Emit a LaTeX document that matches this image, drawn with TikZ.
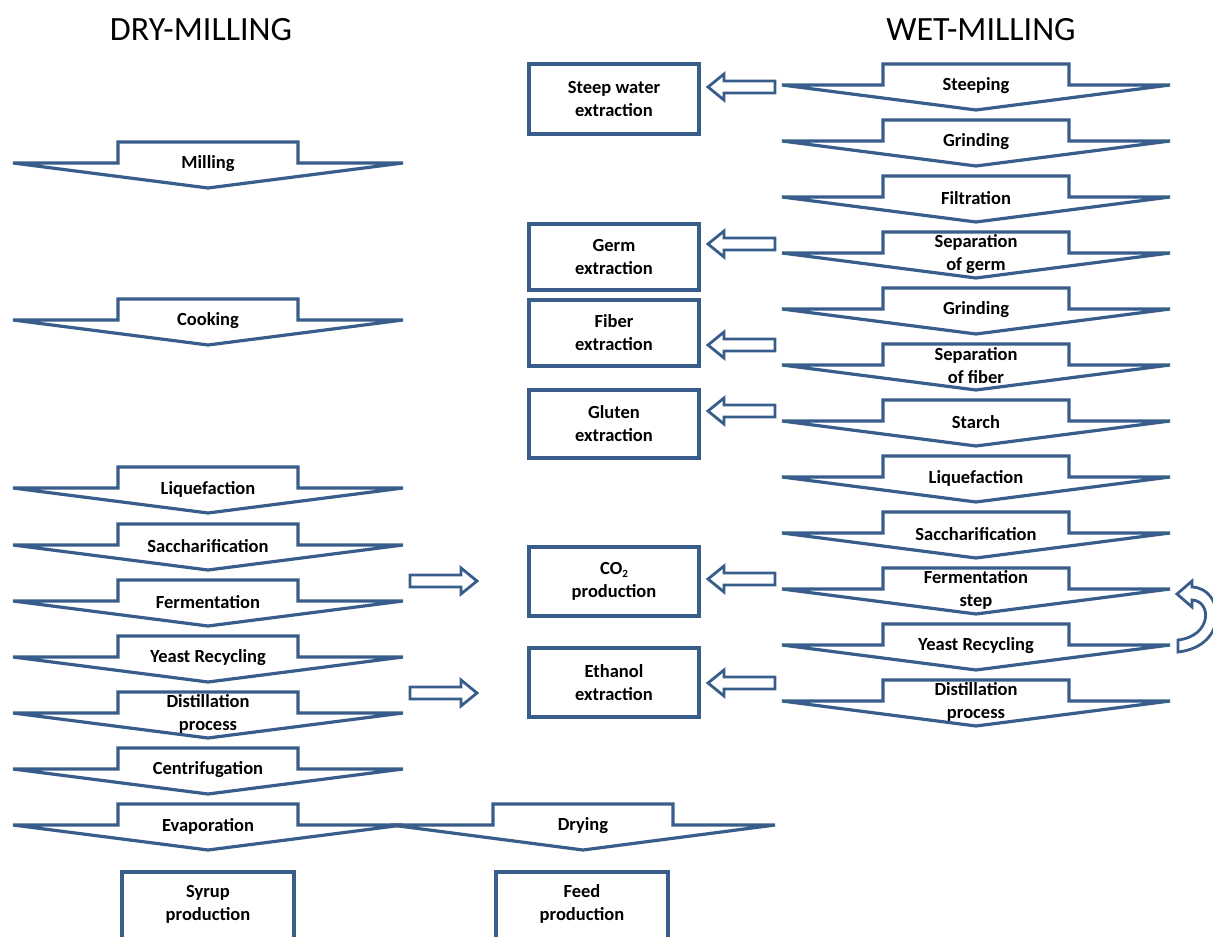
\documentclass[tikz,border=0pt]{standalone}
\usepackage{fontspec}
\setmainfont{Carlito}
\definecolor{edge}{RGB}{56,93,138}
\tikzset{
  shp/.style={draw=edge, line width=3.2pt, fill=white, line join=miter},
  lbl/.style={font=\bfseries\fontsize{18.5}{23}\selectfont, align=center, inner sep=0pt},
  boxn/.style={draw=edge, line width=3.2pt, fill=white, minimum width=170pt, align=center, font=\bfseries\fontsize{18.5}{23}\selectfont, inner sep=0pt},
  ttl/.style={font=\fontsize{34}{40}\selectfont, inner sep=0pt}
}
% name, cx, top, rect half width, head half width, text
\newcommand\dnarrow[6]{%
  \draw[shp] (#2-#4,#3) -- (#2+#4,#3) -- (#2+#4,#3+21) -- (#2+#5,#3+21) -- (#2,#3+46) -- (#2-#5,#3+21) -- (#2-#4,#3+21) -- cycle;
  \node[lbl] (#1) at (#2,#3+22) {#6};}
% left-pointing hollow arrow: tail x, tip x, y
\newcommand\hollowL[3]{%
  \draw[shp, line width=2.8pt] (#1,#3-6) -- (#2+16,#3-6) -- (#2+16,#3-13) -- (#2,#3) -- (#2+16,#3+13) -- (#2+16,#3+6) -- (#1,#3+6) -- cycle;}
\newcommand\hollowR[3]{%
  \draw[shp, line width=2.8pt] (#1,#3-6) -- (#2-16,#3-6) -- (#2-16,#3-13) -- (#2,#3) -- (#2-16,#3+13) -- (#2-16,#3+6) -- (#1,#3+6) -- cycle;}
\begin{document}
\begin{tikzpicture}[x=1pt,y=-1pt]
\useasboundingbox (0,0) rectangle (1213,937);
\clip (0,0) rectangle (1213,937);
% titles
\node[ttl] (tdry) at (201,30) {DRY-MILLING};
\node[ttl] (twet) at (981,30) {WET-MILLING};
% dry milling column
\dnarrow{d1}{208}{142}{90}{195}{Milling}
\dnarrow{d2}{208}{299}{90}{195}{Cooking}
\dnarrow{d3}{208}{467}{90}{195}{Liquefaction}
\dnarrow{d4}{208}{524}{90}{195}{Saccharification}
\dnarrow{d5}{208}{580}{90}{195}{Fermentation}
\dnarrow{d6}{208}{636}{90}{195}{Yeast Recycling}
\dnarrow{d7}{208}{692}{90}{195}{Distillation\\process}
\dnarrow{d8}{208}{748}{90}{195}{Centrifugation}
\dnarrow{d10}{583}{804}{90}{192}{Drying}
\dnarrow{d9}{208}{804}{90}{195}{Evaporation}
% wet milling column
\dnarrow{w1}{976}{64}{93}{194}{Steeping}
\dnarrow{w2}{976}{120}{93}{194}{Grinding}
\dnarrow{w3}{976}{176}{93}{194}{Filtration}
\dnarrow{w4}{976}{232}{93}{194}{Separation\\of germ}
\dnarrow{w5}{976}{288}{93}{194}{Grinding}
\dnarrow{w6}{976}{344}{93}{194}{Separation\\of fiber}
\dnarrow{w7}{976}{400}{93}{194}{Starch}
\dnarrow{w8}{976}{456}{93}{194}{Liquefaction}
\dnarrow{w9}{976}{512}{93}{194}{Saccharification}
\dnarrow{w10}{976}{568}{93}{194}{Fermentation\\step}
\dnarrow{w11}{976}{624}{93}{194}{Yeast Recycling}
\dnarrow{w12}{976}{680}{93}{194}{Distillation\\process}
% product boxes
\node[boxn, minimum height=70pt] (b1) at (614,99) {Steep water\\extraction};
\node[boxn, minimum height=66pt] (b2) at (614,257) {Germ\\extraction};
\node[boxn, minimum height=66pt] (b3) at (614,333) {Fiber\\extraction};
\node[boxn, minimum height=68pt] (b4) at (614,424) {Gluten\\extraction};
\node[boxn, minimum height=69pt] (b5) at (614,581.5) {CO\raisebox{-0.35ex}{\fontsize{11}{11}\selectfont 2}\\production};
\node[boxn, minimum height=69pt] (b6) at (614,682.5) {Ethanol\\extraction};
\node[boxn, minimum width=172pt, minimum height=90pt] (b7) at (208,917) {};
\node[lbl] (t7) at (208,904) {Syrup\\production};
\node[boxn, minimum width=172pt, minimum height=90pt] (b8) at (582,917) {};
\node[lbl] (t8) at (582,904) {Feed\\production};
% hollow arrows
\hollowL{775}{708}{87}
\hollowL{775}{708}{244}
\hollowL{775}{708}{345}
\hollowL{775}{708}{411}
\hollowL{775}{708}{579}
\hollowL{775}{708}{683}
\hollowR{410}{477}{581}
\hollowR{410}{477}{693}
% curved recycling arrow
\draw[shp, line width=2.8pt] (1177,594) -- (1192,581) -- (1192,587) .. controls (1224,588) and (1230,646) .. (1178,652) -- (1178,640) .. controls (1212,636) and (1212,601) .. (1192,600) -- (1192,607) -- cycle;
\end{tikzpicture}
\end{document}
